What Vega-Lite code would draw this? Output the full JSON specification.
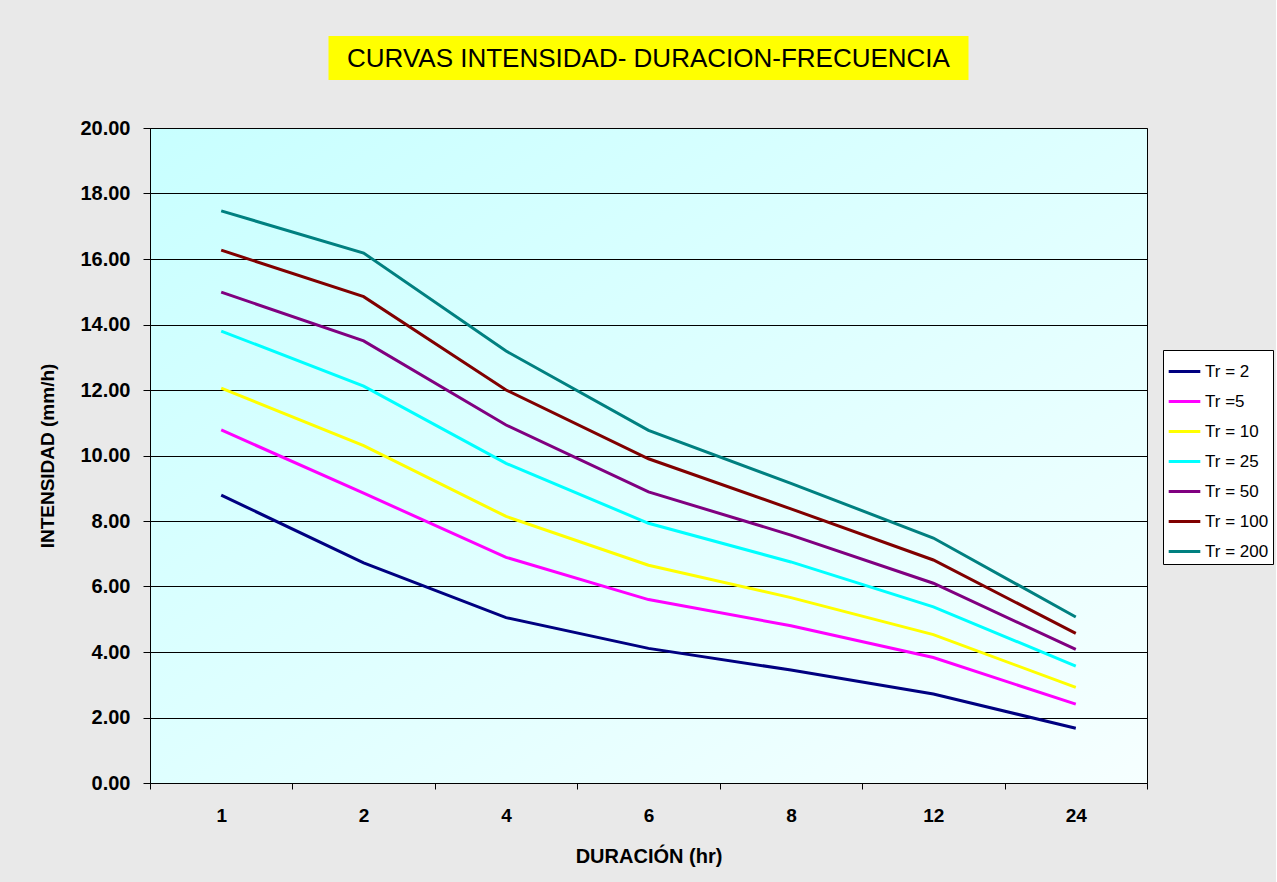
{
  "$schema": "https://vega.github.io/schema/vega-lite/v6.json",
  "background": "#e9e9e9",
  "padding": {"left": 38, "top": 36, "right": 2, "bottom": 25},
  "autosize": {"type": "pad"},
  "center": true,
  "bounds": "flush",
  "spacing": 48,
  "config": {
    "font": "Liberation Sans",
    "view": {"stroke": "#000000", "strokeWidth": 1}
  },
  "datasets": {
    "idf": [
      {"dur": 1, "serie": "Tr = 2", "intensidad": 8.79},
      {"dur": 2, "serie": "Tr = 2", "intensidad": 6.72},
      {"dur": 4, "serie": "Tr = 2", "intensidad": 5.05},
      {"dur": 6, "serie": "Tr = 2", "intensidad": 4.11},
      {"dur": 8, "serie": "Tr = 2", "intensidad": 3.45},
      {"dur": 12, "serie": "Tr = 2", "intensidad": 2.72},
      {"dur": 24, "serie": "Tr = 2", "intensidad": 1.67},
      {"dur": 1, "serie": "Tr =5", "intensidad": 10.78},
      {"dur": 2, "serie": "Tr =5", "intensidad": 8.85},
      {"dur": 4, "serie": "Tr =5", "intensidad": 6.89},
      {"dur": 6, "serie": "Tr =5", "intensidad": 5.6},
      {"dur": 8, "serie": "Tr =5", "intensidad": 4.8},
      {"dur": 12, "serie": "Tr =5", "intensidad": 3.83},
      {"dur": 24, "serie": "Tr =5", "intensidad": 2.41},
      {"dur": 1, "serie": "Tr = 10", "intensidad": 12.06},
      {"dur": 2, "serie": "Tr = 10", "intensidad": 10.3},
      {"dur": 4, "serie": "Tr = 10", "intensidad": 8.14},
      {"dur": 6, "serie": "Tr = 10", "intensidad": 6.65},
      {"dur": 8, "serie": "Tr = 10", "intensidad": 5.66},
      {"dur": 12, "serie": "Tr = 10", "intensidad": 4.53},
      {"dur": 24, "serie": "Tr = 10", "intensidad": 2.92},
      {"dur": 1, "serie": "Tr = 25", "intensidad": 13.8},
      {"dur": 2, "serie": "Tr = 25", "intensidad": 12.12},
      {"dur": 4, "serie": "Tr = 25", "intensidad": 9.76},
      {"dur": 6, "serie": "Tr = 25", "intensidad": 7.93},
      {"dur": 8, "serie": "Tr = 25", "intensidad": 6.75},
      {"dur": 12, "serie": "Tr = 25", "intensidad": 5.38},
      {"dur": 24, "serie": "Tr = 25", "intensidad": 3.57},
      {"dur": 1, "serie": "Tr = 50", "intensidad": 14.99},
      {"dur": 2, "serie": "Tr = 50", "intensidad": 13.5},
      {"dur": 4, "serie": "Tr = 50", "intensidad": 10.93},
      {"dur": 6, "serie": "Tr = 50", "intensidad": 8.89},
      {"dur": 8, "serie": "Tr = 50", "intensidad": 7.57},
      {"dur": 12, "serie": "Tr = 50", "intensidad": 6.1},
      {"dur": 24, "serie": "Tr = 50", "intensidad": 4.08},
      {"dur": 1, "serie": "Tr = 100", "intensidad": 16.27},
      {"dur": 2, "serie": "Tr = 100", "intensidad": 14.85},
      {"dur": 4, "serie": "Tr = 100", "intensidad": 12.0},
      {"dur": 6, "serie": "Tr = 100", "intensidad": 9.9},
      {"dur": 8, "serie": "Tr = 100", "intensidad": 8.37},
      {"dur": 12, "serie": "Tr = 100", "intensidad": 6.81},
      {"dur": 24, "serie": "Tr = 100", "intensidad": 4.57},
      {"dur": 1, "serie": "Tr = 200", "intensidad": 17.47},
      {"dur": 2, "serie": "Tr = 200", "intensidad": 16.18},
      {"dur": 4, "serie": "Tr = 200", "intensidad": 13.19},
      {"dur": 6, "serie": "Tr = 200", "intensidad": 10.77},
      {"dur": 8, "serie": "Tr = 200", "intensidad": 9.15},
      {"dur": 12, "serie": "Tr = 200", "intensidad": 7.48},
      {"dur": 24, "serie": "Tr = 200", "intensidad": 5.07}
    ]
  },
  "vconcat": [
    {
      "width": 640,
      "height": 44,
      "view": {"fill": "#ffff00", "stroke": null},
      "data": {"values": [{"titulo": "CURVAS INTENSIDAD- DURACION-FRECUENCIA"}]},
      "mark": {"type": "text", "font": "Liberation Sans", "fontSize": 26, "color": "#000000", "align": "center", "baseline": "middle", "dy": 1},
      "encoding": {
        "text": {"field": "titulo"},
        "x": {"datum": 0.5, "type": "quantitative", "scale": {"domain": [0, 1]}, "axis": null},
        "y": {"datum": 0.5, "type": "quantitative", "scale": {"domain": [0, 1]}, "axis": null}
      }
    },
    {
      "width": 997,
      "height": 655,
      "view": {
        "stroke": "#000000",
        "fill": {
          "gradient": "linear",
          "x1": 0, "y1": 0, "x2": 1, "y2": 1,
          "stops": [
            {"offset": 0, "color": "#c8ffff"},
            {"offset": 1, "color": "#f6ffff"}
          ]
        }
      },
      "data": {"name": "idf"},
      "mark": {"type": "line", "clip": false},
      "encoding": {
        "x": {
          "field": "dur",
          "type": "ordinal",
          "scale": {"type": "band", "paddingInner": 0, "paddingOuter": 0},
          "axis": {
            "title": "DURACIÓN (hr)",
            "labelAngle": 0,
            "tickBand": "extent",
            "grid": false,
            "domainColor": "#000000",
            "tickColor": "#000000",
            "tickSize": 6,
            "labelFont": "Liberation Sans",
            "labelFontSize": 19,
            "labelFontWeight": "bold",
            "labelColor": "#000000",
            "labelPadding": 17,
            "titleFont": "Liberation Sans",
            "titleFontSize": 20,
            "titleFontWeight": "bold",
            "titleColor": "#000000",
            "titlePadding": 21
          }
        },
        "y": {
          "field": "intensidad",
          "type": "quantitative",
          "scale": {"domain": [0, 20], "nice": false},
          "axis": {
            "title": "INTENSIDAD (mm/h)",
            "values": [0, 2, 4, 6, 8, 10, 12, 14, 16, 18, 20],
            "format": ".2f",
            "grid": true,
            "gridColor": "#000000",
            "gridOpacity": 1,
            "gridWidth": 1,
            "domainColor": "#000000",
            "tickColor": "#000000",
            "tickSize": 7,
            "labelFont": "Liberation Sans",
            "labelFontSize": 20,
            "labelFontWeight": "bold",
            "labelColor": "#000000",
            "labelPadding": 13,
            "titleFont": "Liberation Sans",
            "titleFontSize": 19,
            "titleFontWeight": "bold",
            "titleColor": "#000000",
            "titlePadding": 22
          }
        },
        "color": {
          "field": "serie",
          "type": "nominal",
          "sort": ["Tr = 2", "Tr =5", "Tr = 10", "Tr = 25", "Tr = 50", "Tr = 100", "Tr = 200"],
          "scale": {
            "domain": ["Tr = 2", "Tr =5", "Tr = 10", "Tr = 25", "Tr = 50", "Tr = 100", "Tr = 200"],
            "range": ["#000080", "#ff00ff", "#ffff00", "#00ffff", "#800080", "#800000", "#008080"]
          },
          "legend": {
            "title": null,
            "orient": "none",
            "legendX": 1013,
            "legendY": 314,
            "fillColor": "#ffffff",
            "strokeColor": "#000000",
            "padding": 4,
            "symbolType": "stroke",
            "symbolSize": 1000,
            "symbolStrokeWidth": 3,
            "rowPadding": 4,
            "labelFont": "Liberation Sans",
            "labelFontSize": 17,
            "labelColor": "#000000",
            "labelOffset": 3
          }
        },
        "strokeWidth": {
          "field": "serie",
          "type": "nominal",
          "scale": {
            "domain": ["Tr = 2", "Tr =5", "Tr = 10", "Tr = 25", "Tr = 50", "Tr = 100", "Tr = 200"],
            "range": [3, 3, 3, 1.5, 3, 3, 3]
          },
          "legend": null
        }
      }
    }
  ]
}
